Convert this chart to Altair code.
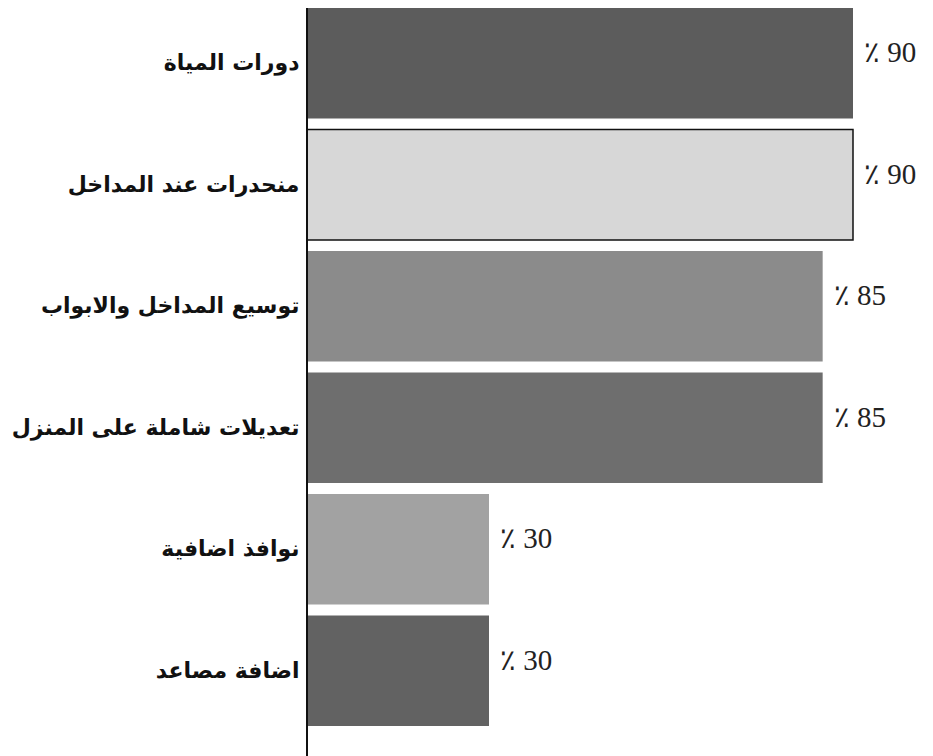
import altair as alt
import pandas as pd

categories = ["دورات المياة", "منحدرات عند المداخل", "توسيع المداخل والابواب",
              "تعديلات شاملة على المنزل", "نوافذ اضافية", "اضافة مصاعد"]
values = [90, 90, 85, 85, 30, 30]
labels = ["٪ 90", "٪ 90", "٪ 85", "٪ 85", "٪ 30", "٪ 30"]

bar_colors = ["#5c5c5c", "#d7d7d7", "#8b8b8b", "#6e6e6e", "#a2a2a2", "#626262"]
bar_strokes = ["transparent", "#111111", "transparent", "transparent", "transparent", "transparent"]

df = pd.DataFrame({"cat": categories, "val": values, "lab": labels,
                   "fill": bar_colors, "stroke": bar_strokes})

W = 546
H = 718

y = alt.Y("cat:N", sort=categories, title=None,
          scale=alt.Scale(paddingInner=0.09, paddingOuter=0),
          axis=alt.Axis(domain=False, ticks=False, labelPadding=8,
                        labelFont="DejaVu Sans", labelFontWeight="bold",
                        labelFontSize=22, labelColor="#111", labelLimit=0))
x = alt.X("val:Q", scale=alt.Scale(domain=[0, 90]), axis=None, title=None)

bars = alt.Chart(df).mark_bar(strokeWidth=1.5).encode(
    y=y, x=x,
    fill=alt.Fill("fill:N", scale=None),
    stroke=alt.Stroke("stroke:N", scale=None),
)

text = alt.Chart(df).mark_text(align="left", baseline="middle", dx=11, dy=-10,
                                font="Liberation Serif", fontSize=29, color="#222").encode(
    y=alt.Y("cat:N", sort=categories), x="val:Q", text="lab:N")

rule = alt.Chart(df).mark_rule(color="#111", strokeWidth=1.2).encode(
    x=alt.value(0), y=alt.value(-2), y2=alt.value(770))

chart = alt.layer(bars, text, rule).properties(
    width=W, height=H,
    padding={"left": 299, "top": 0, "right": 70, "bottom": 40},
    autosize=alt.AutoSizeParams(type="none"),
).configure_view(stroke=None)

chart.save("out.html", embed_options={"renderer": "svg", "actions": False})
